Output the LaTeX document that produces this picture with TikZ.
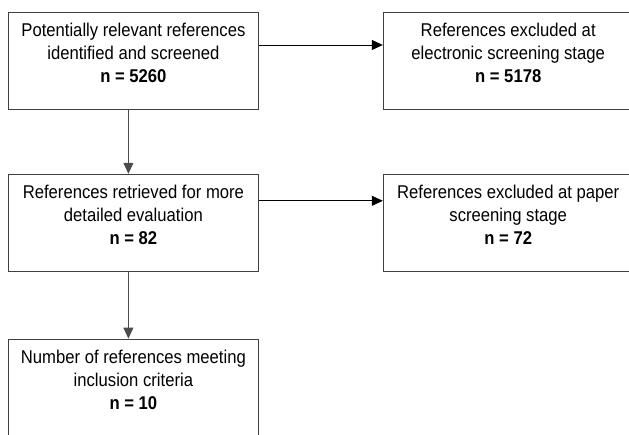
\documentclass[tikz,border=0pt]{standalone}
\usepackage{fontspec}
\setmainfont{Liberation Sans}[FakeStretch=0.9]
\usetikzlibrary{arrows.meta, positioning}
\newcommand{\stagetext}[1]{\parbox[c][97pt][t]{250pt}{\centering\vspace*{11pt}#1}}

\begin{document}
\begin{tikzpicture}[
        stage/.style={rectangle, draw=black!75, line width=0.8pt, inner sep=0pt, font=\fontsize{18.5}{23}\selectfont},
        arrow/.style={-{Triangle[length=11pt, width=10pt]}, line width=0.8pt},
        node distance=64pt and 124pt
    ]
        \useasboundingbox (0,0) rectangle (629pt,-434pt);
        \clip (0,0) rectangle (629pt,-434pt);
        \node[stage, anchor=north west] (screened) at (8pt,-12pt) {\stagetext{Potentially relevant references\\identified and screened\\\textbf{n = 5260}}};
        \node[stage, right=of screened] (electronic) {\stagetext{References excluded at\\electronic screening stage\\\textbf{n = 5178}}};
        \node[stage, below=of screened] (retrieved) {\stagetext{References retrieved for more\\detailed evaluation\\\textbf{n = 82}}};
        \node[stage, right=of retrieved] (paper) {\stagetext{References excluded at paper\\screening stage\\\textbf{n = 72}}};
        \node[stage, below=67pt of retrieved] (included) {\stagetext{Number of references meeting\\inclusion criteria\\\textbf{n = 10}}};
        \draw[arrow] ([yshift=-33pt]screened.north east) -- ([yshift=-33pt]electronic.north west);
        \draw[arrow, draw=black!70] ([xshift=-5pt]screened.south) -- ([xshift=-5pt]retrieved.north);
        \draw[arrow] ([yshift=-27pt]retrieved.north east) -- ([yshift=-27pt]paper.north west);
        \draw[arrow, draw=black!70] ([xshift=-5pt]retrieved.south) -- ([xshift=-5pt]included.north);
    \end{tikzpicture}
\end{document}
